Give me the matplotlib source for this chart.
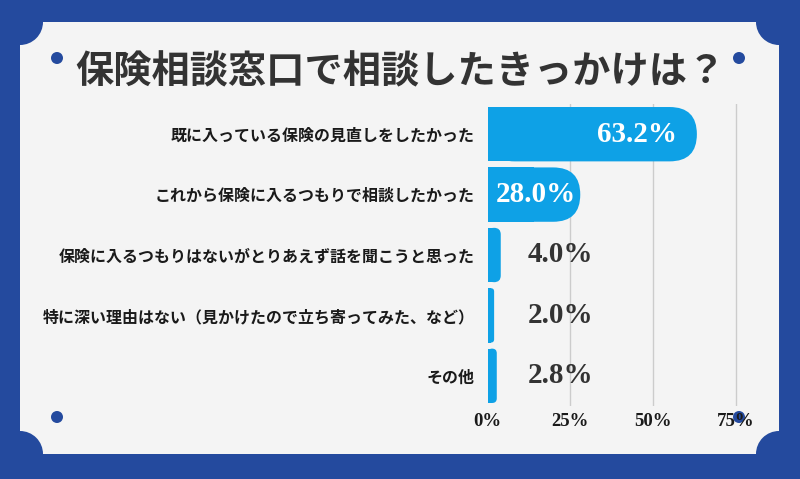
import matplotlib
matplotlib.use("Agg")
import matplotlib.pyplot as plt
from matplotlib.patches import FancyBboxPatch, Rectangle, Circle
import numpy as np

plt.rcParams['font.family'] = ['Noto Sans CJK JP', 'DejaVu Sans']

TITLE = "保険相談窓口で相談したきっかけは？"
categories = [
    "既に入っている保険の見直しをしたかった",
    "これから保険に入るつもりで相談したかった",
    "保険に入るつもりはないがとりあえず話を聞こうと思った",
    "特に深い理由はない（見かけたので立ち寄ってみた、など）",
    "その他",
]
values = [63.2, 28.0, 4.0, 2.0, 2.8]
xticks = [0, 25, 50, 75]
xtick_labels = ["0%", "25%", "50%", "75%"]

BG_BLUE = "#244a9e"
PANEL = "#f4f4f4"
BAR = "#0ea1e6"
TEXT = "#1a1a1a"
NUM_FONT = "Liberation Serif"

W, H = 800, 479
fig = plt.figure(figsize=(W / 100, H / 100), dpi=100)
fig.patch.set_facecolor(BG_BLUE)

# background frame drawn in pixel units
bg = fig.add_axes([0, 0, 1, 1])
bg.set_xlim(0, W)
bg.set_ylim(H, 0)
bg.axis("off")
px0, py0, px1, py1 = 20, 22, 779, 454
bg.add_patch(Rectangle((px0, py0), px1 - px0, py1 - py0, color=PANEL, lw=0))
for cx in (px0, px1):
    for cy in (py0, py1):
        bg.add_patch(Circle((cx, cy), 23, color=BG_BLUE, lw=0))
for cx in (57, 739):
    for cy in (58, 417):
        bg.add_patch(Circle((cx, cy), 6, color=BG_BLUE, lw=0))
bg.text(400, 72, TITLE, ha="center", va="center", fontsize=27.5,
        fontweight="bold", color="#333333")

# main chart axes
xmax = 80
ax_left, ax_right = 487.5, 487.5 + 80 * 3.313
ax_top, ax_bot = 104, 406
ax = fig.add_axes([ax_left / W, (H - ax_bot) / H,
                   (ax_right - ax_left) / W, (ax_bot - ax_top) / H])
ax.set_facecolor("none")
ax.set_xlim(0, xmax)
ax.set_ylim(len(categories) - 0.5, -0.5)
for s in ax.spines.values():
    s.set_visible(False)

for t in xticks[1:]:
    ax.axvline(t, color="#cccccc", lw=1, zorder=0)

y = np.arange(len(categories))
bars = ax.barh(y, values, height=0.9, color=BAR)

pxx = (ax_right - ax_left) / xmax
pxy = (ax_bot - ax_top) / len(categories)
for rect in bars:
    x0, y0 = rect.get_x(), rect.get_y()
    w, h = rect.get_width(), rect.get_height()
    rect.set_visible(False)
    r_px = min(h * pxy / 2, w * pxx / 2)
    r_x = r_px / pxx
    ax.add_patch(FancyBboxPatch((x0, y0), w, h,
                                boxstyle=f"round,pad=0,rounding_size={r_x}",
                                mutation_aspect=pxx / pxy, color=BAR, lw=0, zorder=2))
    ax.add_patch(Rectangle((x0, y0), w / 2, h, color=BAR, lw=0, zorder=2))

ax.set_yticks(y)
ax.set_yticklabels(categories, fontsize=11.5, fontweight="bold", color=TEXT)
ax.set_xticks(xticks)
ax.set_xticklabels(xtick_labels, fontsize=13.5, fontweight="bold",
                   color=TEXT, family=NUM_FONT)
ax.tick_params(axis="y", length=0, pad=9)
ax.tick_params(axis="x", length=0, pad=5)

fig.canvas.draw()
renderer = fig.canvas.get_renderer()
for yi, v in zip(y, values):
    label = f"{v:.1f}%"
    if v >= 20:
        t = ax.text(v - 20 / pxx, yi, label, ha="right", va="center",
                    fontsize=21, fontweight="bold", color="white",
                    family=NUM_FONT, zorder=3)
        bb = t.get_window_extent(renderer)
        start = ax.transData.transform((0, 0))[0]
        if bb.x0 < start + 8:
            t.set_position((8 / pxx, yi))
            t.set_ha("left")
    else:
        ax.text(12.2, yi, label, ha="left", va="center", fontsize=21,
                fontweight="bold", color="#333333", family=NUM_FONT, zorder=3)

fig.savefig("out.png", dpi=100, facecolor=fig.get_facecolor())
